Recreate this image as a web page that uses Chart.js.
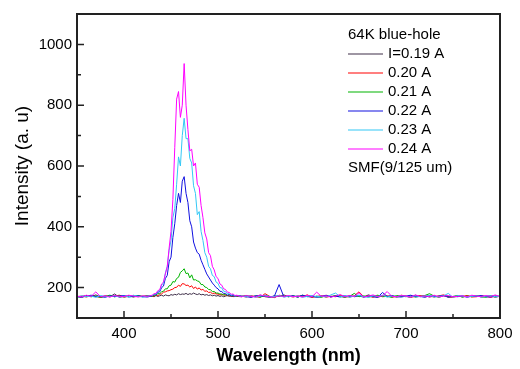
<!DOCTYPE html>
<html>
<head>
<meta charset="utf-8">
<script src="https://cdn.jsdelivr.net/npm/chart.js@4.4.0/dist/chart.umd.min.js"></script>
<style>
  html, body { margin: 0; padding: 0; background: #fff; }
  #wrap { width: 520px; height: 369px; }
</style>
</head>
<body>
<div id="wrap"><canvas id="spectrum"></canvas></div>
<script>
// wavelengths (nm), coarse on the baseline, finer around the peak
const wavelengths = [
  350, 355, 360, 365, 370, 375, 380, 385, 390, 395, 400, 405, 410, 415, 420, 425,
  430, 432, 434, 436, 438, 440, 442, 444, 446, 448, 450, 452, 454, 456, 458, 460,
  462, 464, 466, 468, 470, 472, 474, 476, 478, 480, 482, 484, 486, 488, 490, 492,
  494, 496, 498, 500, 502, 504, 506, 508, 510, 512, 514, 516, 518, 520,
  525, 530, 535, 540, 545, 550, 555, 560, 565, 570, 575, 580, 585, 590, 595, 600,
  605, 610, 615, 620, 625, 630, 635, 640, 645, 650, 655, 660, 665, 670, 675, 680,
  685, 690, 695, 700, 705, 710, 715, 720, 725, 730, 735, 740, 745, 750, 755, 760,
  765, 770, 775, 780, 785, 790, 795, 800
];

const seriesLabels = ['I=0.19 A', '0.20 A', '0.21 A', '0.22 A', '0.23 A', '0.24 A'];
const seriesColors = ['#3e2e48', '#ff0000', '#00b400', '#1010e0', '#33c8f5', '#ff00ff'];

const i019 = [
  171, 168, 173, 170, 176, 169, 172, 170, 179, 168, 171, 173, 169, 172, 170, 174,
  172, 170, 174, 171, 173, 175, 172, 176, 174, 173, 177, 175, 178, 176, 180, 177,
  179, 178, 181, 177, 180, 178, 182, 179, 177, 180, 176, 178, 175, 177, 174, 176,
  173, 175, 172, 174, 171, 173, 170, 172, 174, 171, 173, 170, 172, 171,
  170, 173, 169, 172, 175, 170, 168, 173, 171, 176, 170, 172, 169, 174, 171, 168,
  172, 170, 175, 169, 173, 171, 168, 174, 170, 172, 169, 176, 171, 168, 173, 170,
  174, 169, 172, 171, 168, 175, 170, 173, 169, 172, 170, 174, 168, 171, 173, 169,
  172, 170, 174, 169, 171, 173, 168, 172
];
const i020 = [
  170, 172, 169, 174, 171, 168, 173, 170, 172, 175, 169, 171, 174, 170, 172, 171,
  173, 172, 176, 173, 179, 179, 185, 186, 189, 190, 193, 195, 200, 201, 208, 204,
  213, 212, 207, 208, 202, 206, 197, 202, 195, 199, 192, 194, 188, 189, 184, 185,
  180, 182, 179, 179, 176, 177, 176, 175, 173, 175, 171, 174, 170, 173,
  172, 169, 174, 170, 168, 180, 171, 167, 175, 170, 172, 169, 173, 171, 176, 169,
  170, 174, 168, 172, 170, 175, 171, 169, 173, 186, 170, 172, 168, 174, 171, 173,
  169, 170, 175, 172, 168, 171, 174, 170, 172, 169, 173, 176, 170, 168, 172, 171,
  174, 169, 170, 173, 171, 168, 172, 170
];
const i021 = [
  169, 171, 174, 170, 172, 168, 171, 175, 170, 173, 169, 172, 170, 174, 171, 172,
  172, 175, 175, 180, 180, 186, 188, 196, 196, 206, 208, 220, 218, 230, 234, 250,
  255, 262, 246, 248, 232, 242, 225, 226, 222, 220, 210, 210, 202, 200, 194, 193,
  187, 187, 182, 182, 179, 179, 176, 177, 174, 177, 172, 175, 171, 174,
  171, 174, 170, 172, 169, 173, 171, 168, 174, 172, 170, 173, 169, 175, 171, 172,
  170, 168, 173, 170, 174, 172, 169, 171, 181, 170, 173, 169, 172, 175, 170, 171,
  168, 174, 172, 170, 173, 169, 171, 174, 180, 172, 168, 173, 171, 170, 174, 169,
  172, 171, 173, 170, 168, 174, 171, 172
];
const i022 = [
  170, 169, 172, 175, 170, 171, 168, 173, 170, 172, 174, 169, 171, 173, 170, 169,
  173, 177, 176, 185, 186, 200, 205, 230, 240, 285, 300, 365, 410, 470, 510, 480,
  550, 565, 510, 480, 420, 400, 350, 330, 315, 310, 290, 275, 260, 245, 235, 225,
  215, 208, 200, 196, 188, 187, 181, 181, 175, 177, 172, 176, 171, 174,
  172, 170, 168, 173, 171, 174, 169, 172, 210, 170, 171, 173, 169, 175, 170, 172,
  168, 171, 174, 170, 172, 169, 173, 170, 171, 175, 169, 172, 170, 168, 184, 171,
  173, 170, 169, 172, 175, 170, 171, 168, 173, 170, 172, 174, 169, 171, 170, 173,
  168, 172, 171, 174, 170, 169, 172, 171
];
const i023 = [
  169, 173, 170, 172, 168, 174, 171, 170, 173, 169, 172, 170, 175, 171, 169, 172,
  174, 178, 179, 188, 190, 208, 215, 248, 270, 322, 355, 430, 460, 540, 630, 600,
  700, 757, 690, 690, 625, 610, 535, 510, 440, 450, 385, 355, 315, 300, 270, 262,
  240, 236, 218, 214, 200, 199, 188, 187, 180, 180, 175, 177, 172, 174,
  171, 170, 173, 168, 172, 175, 170, 171, 174, 169, 172, 170, 173, 168, 171, 174,
  170, 172, 169, 176, 182, 170, 173, 169, 172, 174, 170, 168, 173, 171, 175, 169,
  172, 170, 174, 171, 169, 173, 170, 172, 175, 169, 171, 173, 181, 168, 174, 172,
  170, 171, 173, 169, 172, 174, 170, 171
];
const i024 = [
  172, 170, 175, 171, 186, 170, 173, 169, 174, 171, 170, 175, 172, 169, 173, 171,
  175, 180, 181, 190, 193, 212, 218, 245, 268, 330, 385, 490, 660, 820, 845, 760,
  800, 937, 800, 720, 650, 655, 600, 610, 540, 530, 470, 430, 380, 360, 315, 305,
  270, 258, 236, 230, 212, 208, 196, 194, 185, 184, 178, 179, 174, 175,
  170, 174, 171, 169, 176, 172, 170, 168, 173, 171, 174, 170, 172, 169, 175, 170,
  185, 171, 173, 169, 172, 177, 170, 174, 171, 183, 169, 172, 176, 170, 173, 187,
  171, 170, 174, 172, 169, 176, 171, 173, 170, 175, 169, 172, 174, 170, 171, 173,
  169, 175, 172, 170, 174, 171, 176, 170
];
const seriesValues = [i019, i020, i021, i022, i023, i024];

// axis ticks
const xTicks = [400, 500, 600, 700, 800];
const xMinor = [450, 550, 650, 750];
const yTicks = [200, 400, 600, 800, 1000];
const yMinor = [300, 500, 700, 900];

const legendTitle = '64K blue-hole';
const legendFooter = 'SMF(9/125 um)';

const fontFamily = '"Liberation Sans", Arial, Helvetica, sans-serif';
const axisColor = '#222';

const datasets = seriesValues.map((vals, i) => ({
  label: seriesLabels[i],
  data: vals.map((v, j) => ({ x: wavelengths[j], y: v })),
  borderColor: seriesColors[i],
  borderWidth: 1,
  pointRadius: 0,
  tension: 0,
  fill: false,
  order: seriesValues.length - 1 - i // magenta on top
}));

// frame + inward ticks, like the original plot
const frameTicks = {
  id: 'frameTicks',
  afterDatasetsDraw(chart) {
    const { ctx, chartArea: a, scales: { x, y } } = chart;
    ctx.save();
    ctx.strokeStyle = axisColor;
    ctx.lineWidth = 1.5;
    ctx.beginPath();
    xTicks.forEach(v => {
      const px = x.getPixelForValue(v);
      ctx.moveTo(px, a.bottom); ctx.lineTo(px, a.bottom - 7);
    });
    xMinor.forEach(v => {
      const px = x.getPixelForValue(v);
      ctx.moveTo(px, a.bottom); ctx.lineTo(px, a.bottom - 4);
    });
    yTicks.forEach(v => {
      const py = y.getPixelForValue(v);
      ctx.moveTo(a.left, py); ctx.lineTo(a.left + 7, py);
    });
    yMinor.forEach(v => {
      const py = y.getPixelForValue(v);
      ctx.moveTo(a.left, py); ctx.lineTo(a.left + 4, py);
    });
    ctx.stroke();
    ctx.lineWidth = 2;
    ctx.strokeRect(a.left, a.top, a.right - a.left, a.bottom - a.top);
    ctx.restore();
  }
};

// legend in the top right corner, no box
const legendText = {
  id: 'legendText',
  afterDraw(chart) {
    const { ctx, chartArea: a } = chart;
    const left = a.left + 271;
    const top = 35;
    const rowH = 19;
    ctx.save();
    ctx.font = '15px ' + fontFamily;
    ctx.fillStyle = '#000';
    ctx.textBaseline = 'middle';
    ctx.fillText(legendTitle, left, top);
    chart.data.datasets.forEach((ds, i) => {
      const yy = top + rowH * (i + 1);
      ctx.strokeStyle = ds.borderColor;
      ctx.lineWidth = 1.2;
      ctx.beginPath();
      ctx.moveTo(left, yy);
      ctx.lineTo(left + 35, yy);
      ctx.stroke();
      ctx.fillText(ds.label, left + 40, yy);
    });
    ctx.fillText(legendFooter, left, top + rowH * (chart.data.datasets.length + 1));
    ctx.restore();
  }
};

new Chart(document.getElementById('spectrum'), {
  type: 'line',
  data: { datasets: datasets },
  options: {
    responsive: true,
    maintainAspectRatio: false,
    animation: false,
    events: [],
    layout: { padding: { top: 6, right: 20, bottom: 0, left: 0 } },
    plugins: {
      legend: { display: false },
      tooltip: { enabled: false }
    },
    scales: {
      x: {
        type: 'linear',
        min: 350,
        max: 800,
        afterBuildTicks: scale => { scale.ticks = xTicks.map(v => ({ value: v })); },
        afterFit: scale => { scale.height = 51; },
        grid: { display: false, drawTicks: false },
        border: { display: false },
        ticks: {
          autoSkip: false,
          maxRotation: 0,
          padding: 7,
          color: '#000',
          font: { family: fontFamily, size: 15 },
          callback: v => String(v)
        },
        title: {
          display: true,
          text: 'Wavelength (nm)',
          color: '#000',
          font: { family: fontFamily, size: 18, weight: 'bold' },
          padding: { top: 0, bottom: 2 }
        }
      },
      y: {
        type: 'linear',
        min: 100,
        max: 1100,
        afterBuildTicks: scale => { scale.ticks = yTicks.map(v => ({ value: v })); },
        afterFit: scale => { scale.width = 77; },
        grid: { display: false, drawTicks: false },
        border: { display: false },
        ticks: {
          autoSkip: false,
          padding: 5,
          color: '#000',
          font: { family: fontFamily, size: 15 },
          callback: v => String(v)
        },
        title: {
          display: true,
          text: 'Intensity (a. u)',
          color: '#000',
          font: { family: fontFamily, size: 19 },
          padding: { top: 11, bottom: 0 }
        }
      }
    }
  },
  plugins: [frameTicks, legendText]
});
</script>
</body>
</html>
